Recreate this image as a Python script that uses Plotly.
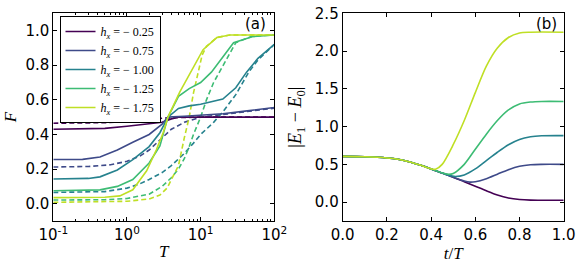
import plotly.graph_objects as go

# ---------------- data: panel (a)  F vs T ----------------
hx_labels = ["−0.25", "−0.75", "−1.00", "−1.25", "−1.75"]
colors = ["#440154", "#3e4a89", "#26828e", "#3dbc74", "#bfdf25"]

T_s_025 = [0.1, 0.3, 0.5, 1, 2, 3, 4, 5, 10, 100]
F_s_025 = [0.43, 0.431, 0.435, 0.447, 0.46, 0.47, 0.49, 0.499, 0.5, 0.5]
T_d_025 = [0.1, 0.5, 1, 2, 3, 5, 10, 100]
F_d_025 = [0.465, 0.468, 0.474, 0.486, 0.494, 0.498, 0.5, 0.5]

T_s_075 = [0.1, 0.25, 0.43, 0.74, 1.2, 2, 3, 3.6, 6, 10, 20, 40, 100]
F_s_075 = [0.255, 0.256, 0.27, 0.31, 0.355, 0.40, 0.46, 0.5, 0.505, 0.512, 0.52, 0.535, 0.556]
T_d_075 = [0.1, 0.3, 0.6, 1, 1.5, 2, 3, 4, 6, 10, 20, 50, 100]
F_d_075 = [0.212, 0.215, 0.225, 0.245, 0.275, 0.31, 0.38, 0.43, 0.47, 0.5, 0.515, 0.535, 0.552]

T_s_100 = [0.1, 0.3, 0.43, 0.74, 1.2, 2, 2.8, 3.6, 5, 7, 10, 15, 20, 30, 42, 60, 100]
F_s_100 = [0.143, 0.146, 0.155, 0.195, 0.255, 0.33, 0.41, 0.5, 0.55, 0.565, 0.575, 0.59, 0.605, 0.67, 0.76, 0.84, 0.92]
T_d_100 = [0.1, 0.5, 1, 1.5, 2, 3, 4, 6, 8, 10, 15, 20, 30, 45, 60, 100]
F_d_100 = [0.065, 0.07, 0.09, 0.115, 0.14, 0.18, 0.22, 0.29, 0.35, 0.40, 0.47, 0.53, 0.63, 0.76, 0.83, 0.92]

T_s_125 = [0.1, 0.43, 0.74, 1.2, 2, 2.8, 3.6, 5, 7, 10, 14, 20, 28, 50, 100]
F_s_125 = [0.075, 0.08, 0.10, 0.14, 0.235, 0.334, 0.5, 0.62, 0.665, 0.70, 0.76, 0.85, 0.93, 0.965, 0.975]
T_d_125 = [0.1, 0.5, 1, 2, 3, 4, 5, 6, 7, 8, 10, 12, 15, 20, 25, 30, 50, 100]
F_d_125 = [0.021, 0.023, 0.03, 0.055, 0.10, 0.15, 0.2, 0.26, 0.33, 0.40, 0.50, 0.6, 0.70, 0.80, 0.87, 0.93, 0.968, 0.975]

T_s_175 = [0.1, 0.5, 0.8, 1.2, 1.85, 2.5, 3.1, 3.6, 5.2, 8, 10.8, 16.6, 25, 100]
F_s_175 = [0.035, 0.037, 0.045, 0.08, 0.19, 0.31, 0.41, 0.5, 0.645, 0.79, 0.89, 0.96, 0.975, 0.975]
T_d_175 = [0.1, 0.5, 1, 2, 2.8, 3.5, 4, 5, 6, 7, 8, 9, 10.5, 12, 16.6, 25, 100]
F_d_175 = [0.008, 0.01, 0.014, 0.027, 0.05, 0.09, 0.14, 0.22, 0.38, 0.5, 0.64, 0.74, 0.86, 0.91, 0.96, 0.975, 0.975]

solid_T = [T_s_025, T_s_075, T_s_100, T_s_125, T_s_175]
solid_F = [F_s_025, F_s_075, F_s_100, F_s_125, F_s_175]
dash_T = [T_d_025, T_d_075, T_d_100, T_d_125, T_d_175]
dash_F = [F_d_025, F_d_075, F_d_100, F_d_125, F_d_175]

# ---------------- data: panel (b)  |E1-E0| vs t/T ----------------
t_025 = [0, 0.1, 0.2, 0.25, 0.3, 0.35, 0.4, 0.45, 0.5, 0.55, 0.6, 0.65, 0.7, 0.75, 0.8, 0.85, 0.9, 1.0]
E_025 = [0.605, 0.6, 0.585, 0.568, 0.535, 0.49, 0.44, 0.385, 0.33, 0.27, 0.21, 0.15, 0.095, 0.055, 0.035, 0.027, 0.025, 0.025]
t_075 = [0, 0.1, 0.2, 0.25, 0.3, 0.35, 0.4, 0.45, 0.5, 0.55, 0.575, 0.6, 0.65, 0.7, 0.75, 0.8, 0.85, 0.9, 1.0]
E_075 = [0.605, 0.6, 0.585, 0.568, 0.535, 0.49, 0.44, 0.385, 0.33, 0.28, 0.265, 0.27, 0.31, 0.37, 0.43, 0.475, 0.495, 0.5, 0.5]
t_100 = [0, 0.1, 0.2, 0.25, 0.3, 0.35, 0.4, 0.45, 0.48, 0.51, 0.55, 0.6, 0.65, 0.7, 0.75, 0.8, 0.85, 0.9, 1.0]
E_100 = [0.605, 0.6, 0.585, 0.568, 0.535, 0.49, 0.44, 0.385, 0.355, 0.34, 0.36, 0.44, 0.55, 0.66, 0.76, 0.83, 0.865, 0.878, 0.88]
t_125 = [0, 0.1, 0.2, 0.25, 0.3, 0.35, 0.4, 0.44, 0.475, 0.5, 0.55, 0.6, 0.65, 0.7, 0.75, 0.8, 0.85, 0.9, 1.0]
E_125 = [0.605, 0.6, 0.585, 0.568, 0.535, 0.49, 0.44, 0.395, 0.37, 0.38, 0.5, 0.70, 0.90, 1.08, 1.22, 1.30, 1.325, 1.333, 1.333]
t_175 = [0, 0.1, 0.2, 0.25, 0.3, 0.35, 0.4, 0.42, 0.45, 0.5, 0.55, 0.6, 0.65, 0.7, 0.75, 0.8, 0.85, 1.0]
E_175 = [0.605, 0.6, 0.585, 0.568, 0.535, 0.49, 0.44, 0.435, 0.50, 0.76, 1.08, 1.45, 1.80, 2.04, 2.18, 2.24, 2.25, 2.25]

gap_t = [t_025, t_075, t_100, t_125, t_175]
gap_E = [E_025, E_075, E_100, E_125, E_175]

x_ticks_a = [0.1, 1, 10, 100]
x_ticktext_a = ["10<sup>-1</sup>", "10<sup>0</sup>", "10<sup>1</sup>", "10<sup>2</sup>"]

# ---------------- figure ----------------
fig = go.Figure()
LW = 1.6
for i in range(5):
    fig.add_trace(go.Scatter(x=dash_T[i], y=dash_F[i], mode="lines",
                             line=dict(color=colors[i], width=LW, dash="5px,3px"),
                             showlegend=False, xaxis="x", yaxis="y"))
for i in range(5):
    fig.add_trace(go.Scatter(x=solid_T[i], y=solid_F[i], mode="lines",
                             line=dict(color=colors[i], width=LW),
                             name="<i>h</i><sub><i>x</i></sub> = − " + hx_labels[i][1:],
                             xaxis="x", yaxis="y"))
for i in range(5):
    fig.add_trace(go.Scatter(x=gap_t[i], y=gap_E[i], mode="lines",
                             line=dict(color=colors[i], width=LW, shape="spline", smoothing=0.8),
                             showlegend=False, xaxis="x2", yaxis="y2"))

tickfont = dict(family="DejaVu Sans", size=15, color="black")
titlefont = dict(family="Liberation Serif", size=17, color="black")
common = dict(showline=True, linecolor="black", linewidth=1, mirror="allticks",
              ticks="inside", ticklen=4, tickcolor="black", showgrid=False,
              zeroline=False, tickfont=tickfont, automargin=False)

y0, y1 = 45 / 266, 1 - 13.3 / 266
fig.update_layout(
    width=582, height=266,
    margin=dict(l=0, r=0, t=0, b=0, autoexpand=False),
    paper_bgcolor="white", plot_bgcolor="white",
    xaxis=dict(domain=[53.3 / 582, 274.3 / 582], type="log", range=[-1, 2],
               tickvals=x_ticks_a, ticktext=x_ticktext_a,
               minor=dict(ticks="inside", ticklen=2, tickcolor="black", showgrid=False, dtick="D1"),
               title=dict(text="<i>T</i>", font=titlefont, standoff=2), **common),
    yaxis=dict(domain=[y0, y1], range=[-0.1, 1.1], dtick=0.2, tickformat=".1f",
               title=dict(text="<i>F</i>", font=titlefont, standoff=4), **common),
    xaxis2=dict(domain=[342.7 / 582, 563.7 / 582], range=[0, 1], dtick=0.2, tickformat=".1f",
                anchor="y2",
                title=dict(text="<i>t</i>/<i>T</i>", font=titlefont, standoff=2), **common),
    yaxis2=dict(domain=[y0, y1], range=[-0.25, 2.5], dtick=0.5, tickformat=".1f",
                anchor="x2",
                title=dict(text="|<i>E</i><sub>1</sub> − <i>E</i><sub>0</sub>|",
                           font=dict(family="Liberation Serif", size=18, color="black"), standoff=8),
                **common),
    legend=dict(x=59.5 / 582, y=1 - 16 / 266, xanchor="left", yanchor="top",
                bordercolor="black", borderwidth=1, bgcolor="white",
                font=dict(family="Liberation Serif", size=12, color="black"),
                tracegroupgap=0, itemwidth=30),
    annotations=[
        dict(text="(a)", x=268 / 582, y=1 - 24 / 266, xref="paper", yref="paper",
             xanchor="right", yanchor="middle", showarrow=False,
             font=dict(family="DejaVu Sans", size=15, color="black")),
        dict(text="(b)", x=559 / 582, y=1 - 24 / 266, xref="paper", yref="paper",
             xanchor="right", yanchor="middle", showarrow=False,
             font=dict(family="DejaVu Sans", size=15, color="black")),
    ],
)

fig.write_html("out.html", config={"displayModeBar": False},
               post_script="document.body.style.margin='0px';")
